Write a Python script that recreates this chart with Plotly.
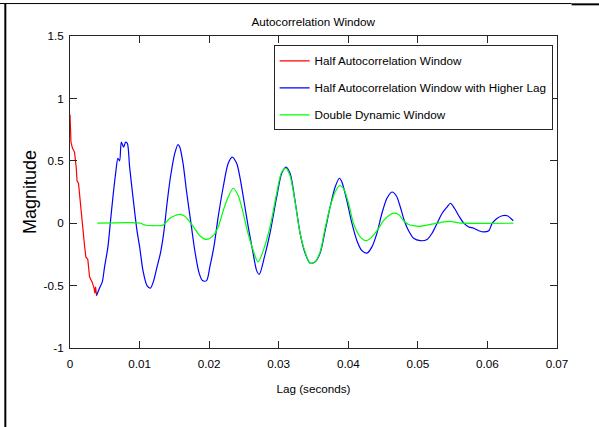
import plotly.graph_objects as go

# Half autocorrelation window (lag in seconds, magnitude)
half_lag = [0, 0.00003, 0.00014, 0.00036, 0.00065, 0.00089, 0.00101, 0.00122,
            0.00144, 0.0018, 0.00209, 0.00228, 0.00256, 0.00281, 0.00317,
            0.00346, 0.00357, 0.00367, 0.00382]
half_mag = [0.87, 0.74, 0.65, 0.60, 0.57, 0.45, 0.34, 0.32,
            0.18, 0.0, -0.18, -0.27, -0.29, -0.43, -0.47,
            -0.52, -0.56, -0.51, -0.58]

# Half autocorrelation window with higher lag
higher_lag = [0.00382, 0.00425, 0.00464, 0.00497, 0.00545, 0.00579, 0.00617, 0.00656,
              0.00689, 0.00713, 0.00738, 0.00771, 0.00800, 0.00824, 0.00857, 0.00905,
              0.00963, 0.01001, 0.01049, 0.01107, 0.01156, 0.01203, 0.01251, 0.01300,
              0.01347, 0.01395, 0.01444, 0.01506, 0.01553, 0.01578, 0.01625, 0.01674,
              0.01746, 0.01794, 0.01856, 0.01905, 0.01963, 0.02010, 0.02068, 0.02130,
              0.02202, 0.02274, 0.02331, 0.02395, 0.02442, 0.02500, 0.02562, 0.02625,
              0.02683, 0.02720, 0.02795, 0.02875, 0.02971, 0.03043, 0.03105, 0.03163,
              0.03235, 0.03307, 0.03379, 0.03451, 0.03523, 0.03595, 0.03667, 0.03739,
              0.03811, 0.03873, 0.03908, 0.03980, 0.04052, 0.04124, 0.04196, 0.04268,
              0.04340, 0.04412, 0.04484, 0.04556, 0.04628, 0.04690, 0.04748, 0.04805,
              0.04867, 0.04939, 0.05036, 0.05133, 0.05205, 0.05277, 0.05349, 0.05421,
              0.05468, 0.05526, 0.05588, 0.05660, 0.05732, 0.05804, 0.05876, 0.05948,
              0.06020, 0.06069, 0.06141, 0.06213, 0.06285, 0.06333, 0.06372]
higher_mag = [-0.58, -0.52, -0.47, -0.35, -0.19, 0.0, 0.21, 0.40,
              0.52, 0.50, 0.65, 0.61, 0.65, 0.64, 0.45, 0.21,
              -0.06, -0.19, -0.38, -0.50, -0.52, -0.46, -0.35, -0.24,
              -0.08, 0.16, 0.37, 0.56, 0.63, 0.61, 0.48, 0.26,
              -0.03, -0.22, -0.40, -0.46, -0.46, -0.35, -0.19, 0.05,
              0.29, 0.48, 0.53, 0.48, 0.37, 0.18, -0.03, -0.22,
              -0.38, -0.41, -0.27, -0.08, 0.21, 0.40, 0.45, 0.40,
              0.18, -0.08, -0.24, -0.32, -0.31, -0.24, -0.06, 0.13,
              0.29, 0.36, 0.33, 0.18, 0.0, -0.14, -0.22, -0.24,
              -0.19, -0.08, 0.08, 0.20, 0.25, 0.22, 0.13, 0.02,
              -0.06, -0.12, -0.14, -0.13, -0.08, 0.0, 0.08, 0.13,
              0.16, 0.12, 0.06, 0.0, -0.03, -0.04, -0.06, -0.07,
              -0.06, 0.0, 0.04, 0.06, 0.06, 0.04, 0.02]

# Double dynamic window
double_lag = [0.00392, 0.01026, 0.01049, 0.01337, 0.01434, 0.01506, 0.01578, 0.01650,
              0.01722, 0.01794, 0.01866, 0.01963, 0.02058, 0.02130, 0.02202, 0.02274,
              0.02346, 0.02418, 0.02481, 0.02548, 0.02634, 0.02702, 0.02778, 0.02875,
              0.02971, 0.03043, 0.03105, 0.03163, 0.03235, 0.03307, 0.03379, 0.03451,
              0.03523, 0.03595, 0.03667, 0.03739, 0.03811, 0.03873, 0.03931, 0.04003,
              0.04075, 0.04171, 0.04258, 0.04340, 0.04412, 0.04507, 0.04579, 0.04651,
              0.04723, 0.04795, 0.04867, 0.04939, 0.05012, 0.05084, 0.05180, 0.05277,
              0.05372, 0.05468, 0.05565, 0.05660, 0.06372]
double_mag = [0.0, 0.0, -0.01, -0.015, 0.04, 0.06, 0.07, 0.055,
              0.01, -0.045, -0.10, -0.13, -0.10, -0.03, 0.10, 0.21,
              0.28, 0.22, 0.10, -0.06, -0.22, -0.31, -0.22, -0.03,
              0.24, 0.41, 0.44, 0.38, 0.17, -0.08, -0.23, -0.32,
              -0.31, -0.23, -0.04, 0.13, 0.25, 0.30, 0.28, 0.16,
              0.0, -0.11, -0.14, -0.11, -0.06, 0.02, 0.06, 0.08,
              0.07, 0.02, -0.01, -0.02, -0.025, -0.02, -0.01, 0.0,
              0.01, 0.015, 0.005, 0.0, 0.0]

x_ticks = [0, 0.01, 0.02, 0.03, 0.04, 0.05, 0.06, 0.07]
x_tick_labels = ["0", "0.01", "0.02", "0.03", "0.04", "0.05", "0.06", "0.07"]
y_ticks = [-1, -0.5, 0, 0.5, 1, 1.5]
y_tick_labels = ["-1", "-0.5", "0", "0.5", "1", "1.5"]

FONT = "Liberation Sans, Arial, sans-serif"
TXT = 11.7
AXIS_COLOR = "#262626"

fig = go.Figure()
fig.add_trace(go.Scatter(x=half_lag, y=half_mag, mode="lines",
                         name="Half Autocorrelation Window", legendgroup="a",
                         line=dict(color="#ff0000", width=1.2)))
fig.add_trace(go.Scatter(x=higher_lag, y=higher_mag, mode="lines",
                         name="Half Autocorrelation Window with Higher Lag", legendgroup="b",
                         line=dict(color="#0000ff", width=1.2, shape="spline", smoothing=0.8)))
fig.add_trace(go.Scatter(x=double_lag, y=double_mag, mode="lines",
                         name="Double Dynamic Window", legendgroup="c",
                         line=dict(color="#00ff00", width=1.2, shape="spline", smoothing=0.8)))

axis_common = dict(showline=True, linecolor=AXIS_COLOR, linewidth=1, mirror="ticks",
                   ticks="inside", ticklen=7, tickcolor=AXIS_COLOR, tickwidth=1,
                   showgrid=False, zeroline=False,
                   tickfont=dict(family=FONT, size=TXT, color="#000"))

fig.update_xaxes(range=[0, 0.07], tickvals=x_ticks, ticktext=x_tick_labels,
                 ticklabelstandoff=5,
                 title=dict(text="Lag (seconds)", font=dict(family=FONT, size=TXT, color="#000"),
                            standoff=15),
                 **axis_common)
fig.update_yaxes(range=[-1, 1.5], tickvals=y_ticks, ticktext=y_tick_labels,
                 ticklabelstandoff=3,
                 title=dict(text="Magnitude", font=dict(family=FONT, size=18, color="#000"),
                            standoff=2),
                 **axis_common)

# page borders around the figure
border_shapes = [
    dict(type="line", xref="paper", yref="paper", x0=-0.16, x1=1.03, y0=1.104, y1=1.104,
         line=dict(color="#000", width=1)),
    dict(type="line", xref="paper", yref="paper", x0=1.03, x1=1.09, y0=1.1015, y1=1.1015,
         line=dict(color="#000", width=2)),
    dict(type="line", xref="paper", yref="paper", x0=-0.1328, x1=-0.1328, y0=1.104, y1=-0.27,
         line=dict(color="#000", width=2)),
]

fig.update_layout(
    width=599, height=427,
    margin=dict(l=70, r=42, t=36, b=79, pad=0),
    paper_bgcolor="#fff", plot_bgcolor="#fff",
    font=dict(family=FONT, size=TXT, color="#000"),
    title=dict(text="Autocorrelation Window", x=0.523, xanchor="center",
               y=0.949, yanchor="middle", yref="container",
               font=dict(family=FONT, size=TXT, color="#000")),
    showlegend=True,
    legend=dict(x=0.991, xanchor="right", y=0.97, yanchor="top",
                bgcolor="#fff", bordercolor=AXIS_COLOR, borderwidth=1,
                font=dict(family=FONT, size=TXT, color="#000"),
                tracegroupgap=8, itemwidth=30),
    shapes=border_shapes,
)

fig.write_html("out.html")
